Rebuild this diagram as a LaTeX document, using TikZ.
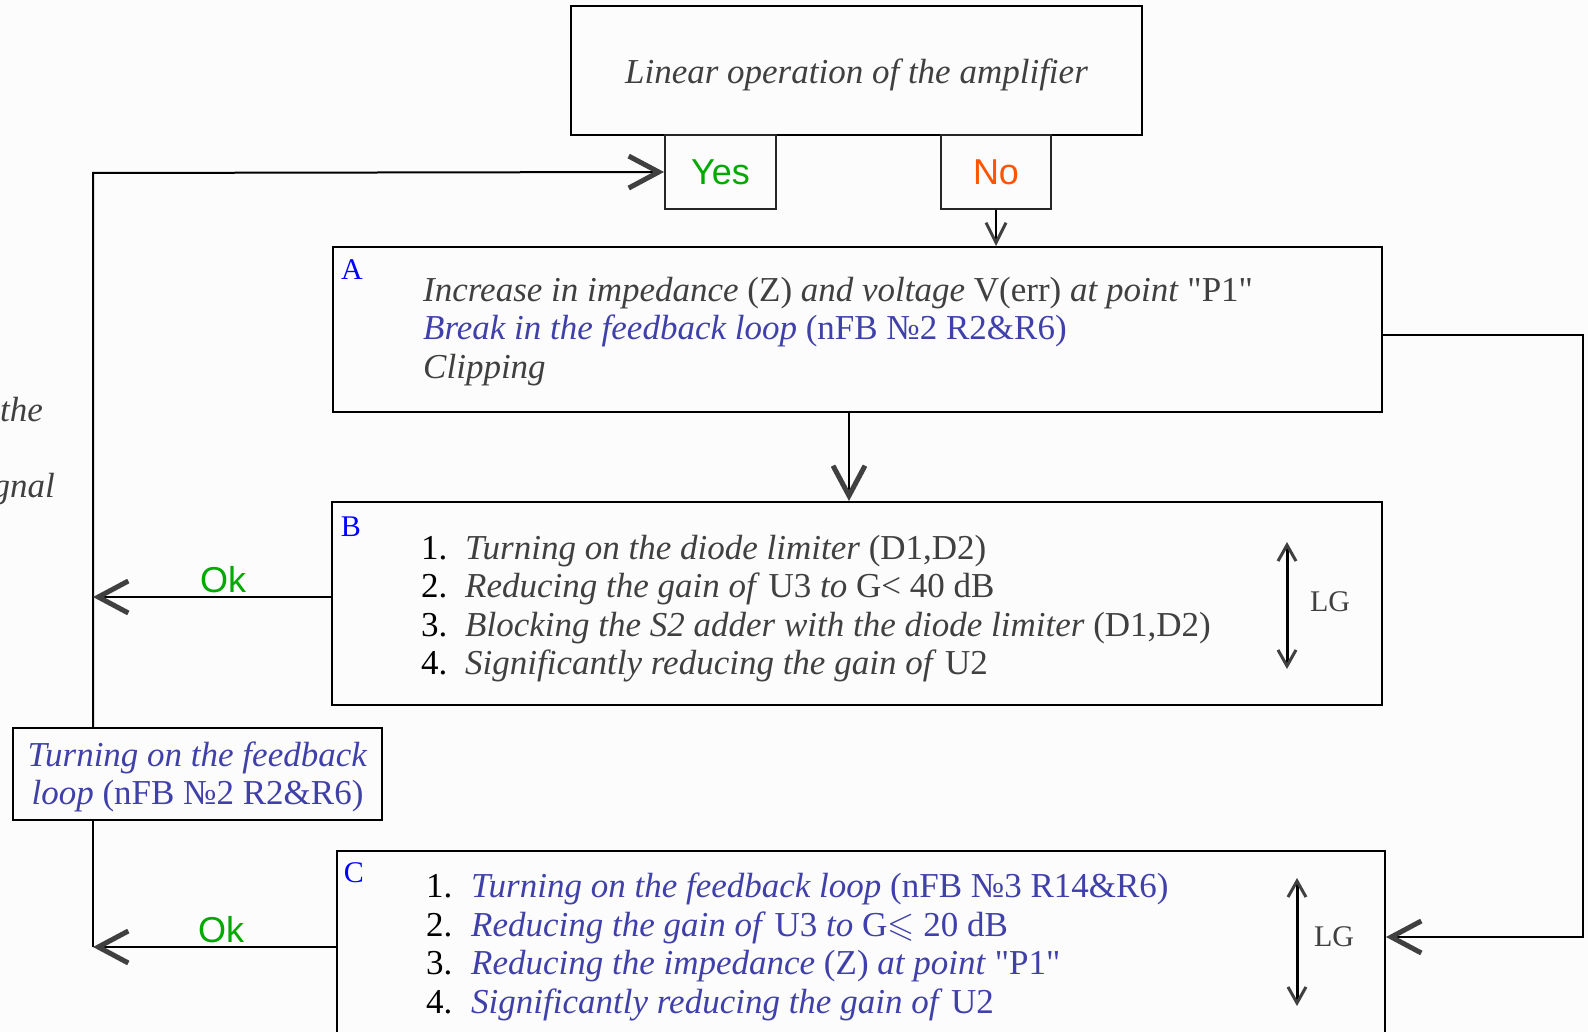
\documentclass[tikz,border=0pt]{standalone}
\usepackage{fontspec}
\usepackage{amssymb}
\setmainfont{Liberation Serif}[Ligatures=TeXOff]
\newfontfamily\sansf{Liberation Sans}
\usetikzlibrary{arrows.meta}
\definecolor{txt}{RGB}{64,64,64}
\definecolor{fbblue}{RGB}{64,64,170}
\definecolor{lblblue}{RGB}{0,0,255}
\definecolor{okgreen}{RGB}{0,170,0}
\definecolor{noorange}{RGB}{255,85,0}
\definecolor{bgc}{RGB}{252,252,252}
\definecolor{tipgray}{RGB}{64,64,64}
\newcommand{\mainsz}{\fontsize{35}{38}\selectfont}
\begin{document}
\begin{tikzpicture}[x=1pt,y=-1pt,
  box/.style={draw=black,line width=2pt,inner sep=0pt},
  ynbox/.style={draw=black!85,line width=2pt,inner sep=0pt,minimum height=74pt,font=\sansf\fontsize{36}{40}\selectfont},
  ln/.style={anchor=base west,inner sep=0pt,font=\mainsz,text=txt},
  bln/.style={anchor=base west,inner sep=0pt,font=\mainsz,text=fbblue},
  num/.style={anchor=base west,inner sep=0pt,font=\mainsz,text=black},
  lbl/.style={inner sep=0pt,font=\fontsize{30}{34}\selectfont,text=lblblue},
  oklbl/.style={inner sep=0pt,font=\sansf\fontsize{36}{40}\selectfont,text=okgreen},
  conn/.style={draw=black,line width=2pt},
  bigarrow/.style={conn,-{Straight Barb[length=30pt,width=32pt,line width=5pt,color=tipgray]}},
  smallarrow/.style={conn,-{Straight Barb[length=20pt,width=20pt,line width=3pt,color=tipgray]}},
  lgarrow/.style={draw=black,line width=3pt,{Straight Barb[length=16pt,width=18pt,line width=3pt,color=tipgray]}-{Straight Barb[length=16pt,width=18pt,line width=3pt,color=tipgray]}}
]
\useasboundingbox (0,0) rectangle (1588,1032);
\fill[bgc] (0,0) rectangle (1588,1032);

% boxes
\node[box,minimum width=571pt,minimum height=129pt] (top) at (856.5,70.5) {};
\node[ynbox,minimum width=111pt,text=okgreen] (yes) at (720.5,172) {Yes};
\node[ynbox,minimum width=110pt,text=noorange] (no) at (996,172) {No};
\node[box,minimum width=1049pt,minimum height=165pt] (A) at (857.5,329.5) {};
\node[box,minimum width=1050pt,minimum height=203pt] (B) at (857,603.5) {};
\node[box,minimum width=1048pt,minimum height=200pt] (C) at (861,951) {};
\node[box,minimum width=369pt,minimum height=92pt] (fb) at (197.5,774) {};

% top text
\node[inner sep=0pt,font=\mainsz,text=txt] (toptxt) at (856.5,75) {\textit{Linear operation of the amplifier}};

% left cut-off text
\node[ln,anchor=base west] (cut1) at (0,421) {\textit{the}};
\node[ln,anchor=base east] (cut2) at (55,497) {\textit{gnal}};

% box A
\node[lbl] (la) at (352,270) {A};
\node[ln] (a1) at (423,302) {\textit{Increase in impedance} (Z) \textit{and voltage} V(err) \textit{at point} "P1"};
\node[bln] (a2) at (423,340) {\textit{Break in the feedback loop} (nFB №2 R2\&R6)};
\node[ln] (a3) at (423,378) {\textit{Clipping}};

% box B
\node[lbl] (lb) at (351,527) {B};
\node[num] (b1n) at (421,559) {1.};
\node[num] (b2n) at (421,597) {2.};
\node[num] (b3n) at (421,636) {3.};
\node[num] (b4n) at (421,674) {4.};
\node[ln] (b1) at (465,559) {\textit{Turning on the diode limiter} (D1,D2)};
\node[ln] (b2) at (465,597) {\textit{Reducing the gain of} U3 \textit{to} G< 40 dB};
\node[ln] (b3) at (465,636) {\textit{Blocking the S2 adder with the diode limiter} (D1,D2)};
\node[ln] (b4) at (465,674) {\textit{Significantly reducing the gain of} U2};
\node[inner sep=0pt,font=\fontsize{30}{34}\selectfont,text=txt] (lgb) at (1330,602) {LG};
\draw[lgarrow] (1287,542) -- (1287,669);

% box C
\node[lbl] (lc) at (354,873) {C};
\node[num] (c1n) at (426,897) {1.};
\node[num] (c2n) at (426,936) {2.};
\node[num] (c3n) at (426,974) {3.};
\node[num] (c4n) at (426,1013) {4.};
\node[bln] (c1) at (471,897) {\textit{Turning on the feedback loop} (nFB №3 R14\&R6)};
\node[bln] (c2) at (471,936) {\textit{Reducing the gain of} U3 \textit{to} G$\leqslant$ 20 dB};
\node[bln] (c3) at (471,974) {\textit{Reducing the impedance} (Z) \textit{at point} "P1"};
\node[bln] (c4) at (471,1013) {\textit{Significantly reducing the gain of} U2};
\node[inner sep=0pt,font=\fontsize{30}{34}\selectfont,text=txt] (lgc) at (1334,937) {LG};
\draw[lgarrow] (1297,878) -- (1297,1006);

% feedback box text
\node[inner sep=0pt,font=\mainsz,text=fbblue,align=center] (fbt) at (197.5,777) {\textit{Turning on the feedback}\\\textit{loop} (nFB №2 R2\&R6)};

% Ok labels
\node[oklbl] (okb) at (223,580) {Ok};
\node[oklbl] (okc) at (221,930) {Ok};

% coordinates
\coordinate (L) at (93,173);
\coordinate (Lb) at (93,597);
\coordinate (Lc) at (93,947);
\coordinate (RA) at (1583,335);
\coordinate (RC) at (1583,937);
\coordinate (AB) at (849,412);

% connectors
\draw[bigarrow] (fb.north -| L) -- (L) -- (yes.west);
\draw[bigarrow] (B.west |- Lb) -- (Lb);
\draw[conn] (fb.south -| L) -- (Lc);
\draw[bigarrow] (C.west |- Lc) -- (Lc);
\draw[smallarrow] (no.south) -- (no.south |- A.north);
\draw[bigarrow] (A.south -| AB) -- (B.north -| AB);
\draw[bigarrow] (A.east |- RA) -- (RA) -- (RC) -- (C.east |- RC);
\end{tikzpicture}
\end{document}
